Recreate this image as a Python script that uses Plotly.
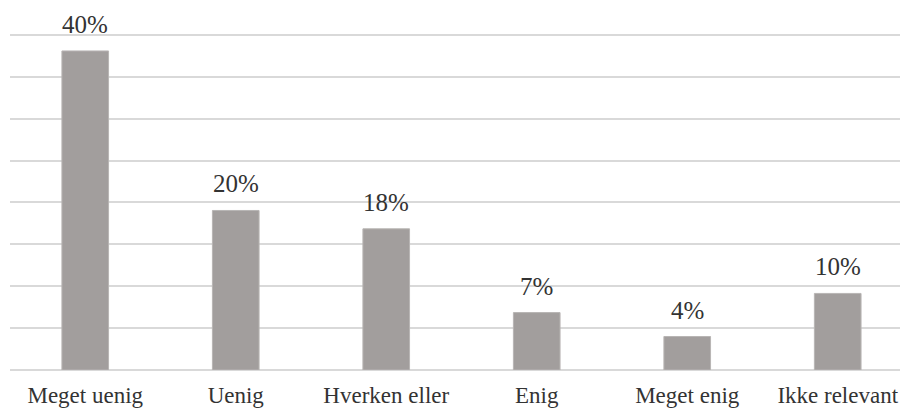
import plotly.graph_objects as go

categories = ["Meget uenig", "Uenig", "Hverken eller", "Enig", "Meget enig", "Ikke relevant"]
values = [0.400, 0.200, 0.177, 0.072, 0.042, 0.096]
value_labels = ["40%", "20%", "18%", "7%", "4%", "10%"]

font_family = "Times New Roman, Liberation Serif, serif"
text_color = "#333333"

fig = go.Figure()
fig.add_trace(go.Bar(
    x=categories, y=values,
    marker=dict(color="#a29e9d", line=dict(color="#b8b5b4", width=1)),
    hoverinfo="skip",
))

for c, v, t in zip(categories, values, value_labels):
    fig.add_annotation(x=c, y=v, text=t, showarrow=False, yanchor="bottom",
                       yshift=11, font=dict(family=font_family, size=25, color=text_color))

# page body has an 8px margin; figure sized to fill the 908x412 window
fig.update_layout(
    width=900, height=404,
    margin=dict(l=2, r=0, t=23, b=42),
    paper_bgcolor="white", plot_bgcolor="white",
    bargap=0.69, showlegend=False,
    font=dict(family=font_family, size=23, color=text_color),
    xaxis=dict(range=[-0.5, 5.467], showgrid=False, showline=False, zeroline=False,
               ticks="outside", ticklen=4, tickcolor="rgba(0,0,0,0)",
               tickfont=dict(family=font_family, size=23, color=text_color)),
    yaxis=dict(range=[0, 0.425], dtick=0.0525, showticklabels=False,
               showgrid=True, gridcolor="#d9d9d9", gridwidth=1.5,
               zeroline=True, zerolinecolor="#d9d9d9", zerolinewidth=1.5, showline=False),
)

fig.write_html("out.html")
